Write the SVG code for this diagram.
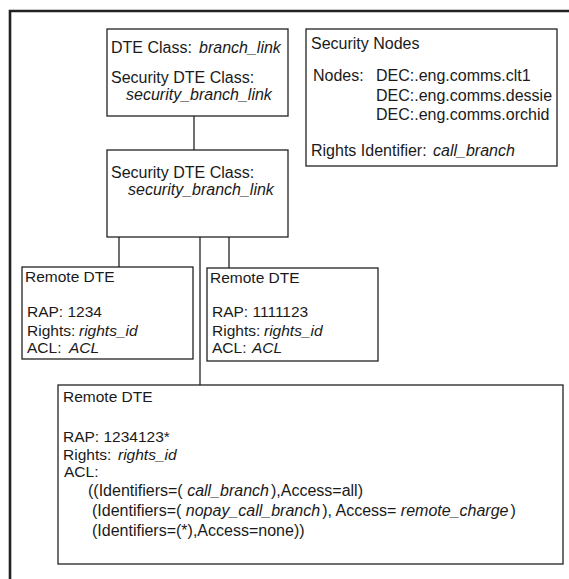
<svg xmlns="http://www.w3.org/2000/svg" width="569" height="579" viewBox="0 0 569 579">
<style>
.box{fill:#fff;stroke:#222;stroke-width:1.3}
.ln{stroke:#222;stroke-width:1.3;fill:none}
text{font-family:"Liberation Sans",Arial,sans-serif;font-size:16px;fill:#1a1a1a}
.s{font-size:15.5px}
.i{font-style:italic}
</style>
<rect width="569" height="579" fill="#fff"/>
<path d="M10,579 V11 H569" fill="none" stroke="#222" stroke-width="2.6"/>
<g id="connectors">
<line class="ln" x1="194" y1="116" x2="194" y2="150"/>
<line class="ln" x1="119" y1="237" x2="119" y2="267"/>
<line class="ln" x1="229" y1="237" x2="229" y2="268"/>
<line class="ln" x1="200" y1="237" x2="200" y2="385"/>
</g>
<g id="dte-class">
<rect class="box" x="107" y="29" width="181" height="87"/>
<text x="111" y="53">DTE Class:<tspan class="i" x="199">branch_link</tspan></text>
<text x="111" y="83">Security DTE Class:</text>
<text class="i" x="126" y="100">security_branch_link</text>
</g>
<g id="security-dte-class">
<rect class="box" x="107" y="150" width="181" height="87"/>
<text x="111" y="178">Security DTE Class:</text>
<text class="i" x="128" y="195">security_branch_link</text>
</g>
<g id="security-nodes">
<rect class="box" x="306" y="29" width="251" height="137"/>
<text x="311" y="49">Security Nodes</text>
<text x="313" y="81">Nodes:</text>
<text x="376" y="81">DEC:.eng.comms.clt1</text>
<text x="376" y="101">DEC:.eng.comms.dessie</text>
<text x="376" y="120">DEC:.eng.comms.orchid</text>
<text x="311" y="156">Rights Identifier:<tspan class="i" x="433">call_branch</tspan></text>
</g>
<g id="remote-dte-1">
<rect class="box" x="22" y="267" width="171" height="92"/>
<text class="s" x="25" y="282">Remote DTE</text>
<text class="s" x="27" y="317">RAP: 1234</text>
<text class="s" x="27" y="336">Rights:<tspan class="i" x="79">rights_id</tspan></text>
<text class="s" x="27" y="353">ACL:<tspan class="i" x="69">ACL</tspan></text>
</g>
<g id="remote-dte-2">
<rect class="box" x="207" y="268" width="171" height="93"/>
<text class="s" x="210" y="283">Remote DTE</text>
<text class="s" x="212" y="317">RAP: 1111123</text>
<text class="s" x="212" y="336">Rights:<tspan class="i" x="264">rights_id</tspan></text>
<text class="s" x="212" y="353">ACL:<tspan class="i" x="252">ACL</tspan></text>
</g>
<g id="remote-dte-3">
<rect class="box" x="58" y="385" width="505" height="179"/>
<text class="s" x="63" y="402">Remote DTE</text>
<text class="s" x="63" y="442">RAP: 1234123*</text>
<text class="s" x="63" y="460">Rights:<tspan class="i" x="118">rights_id</tspan></text>
<text class="s" x="64" y="477">ACL:</text>
<text x="88" y="496">((Identifiers=( <tspan class="i">call_branch</tspan><tspan dx="2">),Access=all)</tspan></text>
<text x="92" y="516">(Identifiers=( <tspan class="i">nopay_call_branch</tspan><tspan dx="2">), Access= </tspan><tspan class="i">remote_charge</tspan><tspan dx="2">)</tspan></text>
<text x="92" y="536">(Identifiers=(*),Access=none))</text>
</g>
</svg>
